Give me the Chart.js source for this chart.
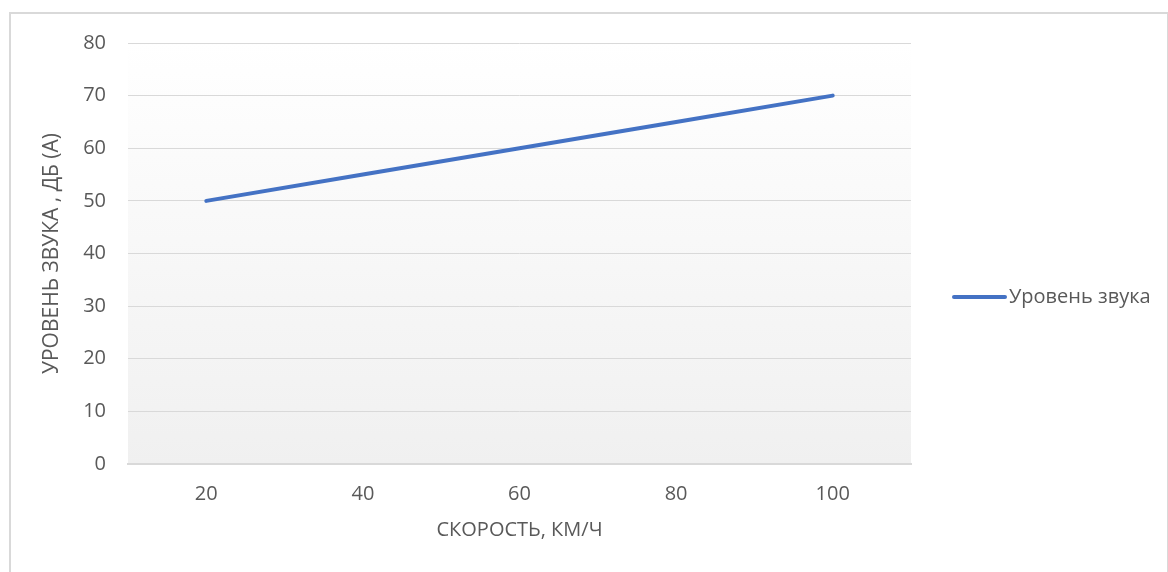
<!DOCTYPE html>
<html>
<head>
<meta charset="utf-8">
<script src="https://cdn.jsdelivr.net/npm/chart.js@4"></script>
<style>
  body { margin: 0; background: #fff; }
  #wrap { position: relative; width: 1168px; height: 572px; }
  #frame { position: absolute; left: 9px; top: 12px; width: 1160px; height: 570px; border: 2px solid #d9d9d9; box-sizing: border-box; }
  canvas { position: absolute; left: 0; top: 0; }
</style>
</head>
<body>
<div id="wrap">
  <div id="frame"></div>
  <canvas id="myChart" width="1168" height="572"></canvas>
</div>
<script>
const speeds = ["20", "40", "60", "80", "100"];
const soundLevel = [50, 55, 60, 65, 70];
const seriesName = "Уровень звука";
const xTitle = "СКОРОСТЬ, КМ/Ч";
const yTitle = "УРОВЕНЬ ЗВУКА , ДБ (А)";

const fontFamily = "'Open Sans', sans-serif";
const textColor = "#595959";
const lineColor = "#4472c4";

// plot area fill: white on top, light gray at the bottom
const plotBackground = {
  id: "plotBackground",
  beforeDraw(chart) {
    const { ctx, chartArea } = chart;
    const g = ctx.createLinearGradient(0, chartArea.top, 0, chartArea.bottom);
    g.addColorStop(0, "#ffffff");
    g.addColorStop(1, "#f0f0f0");
    ctx.save();
    ctx.fillStyle = g;
    ctx.fillRect(chartArea.left, chartArea.top, chartArea.width, chartArea.height);
    ctx.restore();
  },
};

// legend on the right, drawn by hand so it sits where it does in the original
const sideLegend = {
  id: "sideLegend",
  afterDraw(chart) {
    const ctx = chart.ctx;
    const y = 297;
    ctx.save();
    ctx.strokeStyle = lineColor;
    ctx.lineWidth = 4;
    ctx.lineCap = "round";
    ctx.beginPath();
    ctx.moveTo(954, y);
    ctx.lineTo(1005, y);
    ctx.stroke();
    ctx.fillStyle = textColor;
    ctx.font = "20px " + fontFamily;
    ctx.textBaseline = "middle";
    ctx.fillText(chart.data.datasets[0].label, 1009, y);
    ctx.restore();
  },
};

const ctx = document.getElementById("myChart");
const myChart = new Chart(ctx, {
  type: "line",
  data: {
    labels: speeds,
    datasets: [
      {
        label: seriesName,
        data: soundLevel,
        borderColor: lineColor,
        borderWidth: 4,
        borderCapStyle: "round",
        pointRadius: 0,
        tension: 0,
      },
    ],
  },
  options: {
    responsive: false,
    animation: false,
    layout: { padding: { left: 20, right: 257, top: 43, bottom: 28 } },
    plugins: {
      legend: { display: false },
      tooltip: { enabled: false },
    },
    scales: {
      x: {
        offset: true,
        grid: { display: false, drawTicks: false },
        border: { display: true, color: "#d9d9d9", width: 2 },
        ticks: { color: textColor, font: { family: fontFamily, size: 20 }, padding: 18, maxRotation: 0 },
        title: { display: true, text: xTitle, color: textColor, font: { family: fontFamily, size: 20 }, padding: { top: 0, bottom: 2 } },
        afterFit(scale) { scale.height = 80; },
      },
      y: {
        min: 0,
        max: 80,
        ticks: { stepSize: 10, color: textColor, font: { family: fontFamily, size: 20 }, padding: 22 },
        grid: { color: "#d9d9d9", drawTicks: false },
        border: { display: false },
        title: { display: true, text: yTitle, color: textColor, font: { family: fontFamily, size: 21 }, padding: { top: 19, bottom: 0 } },
        afterFit(scale) { scale.width = 108; },
      },
    },
  },
  plugins: [plotBackground, sideLegend],
});
</script>
</body>
</html>
